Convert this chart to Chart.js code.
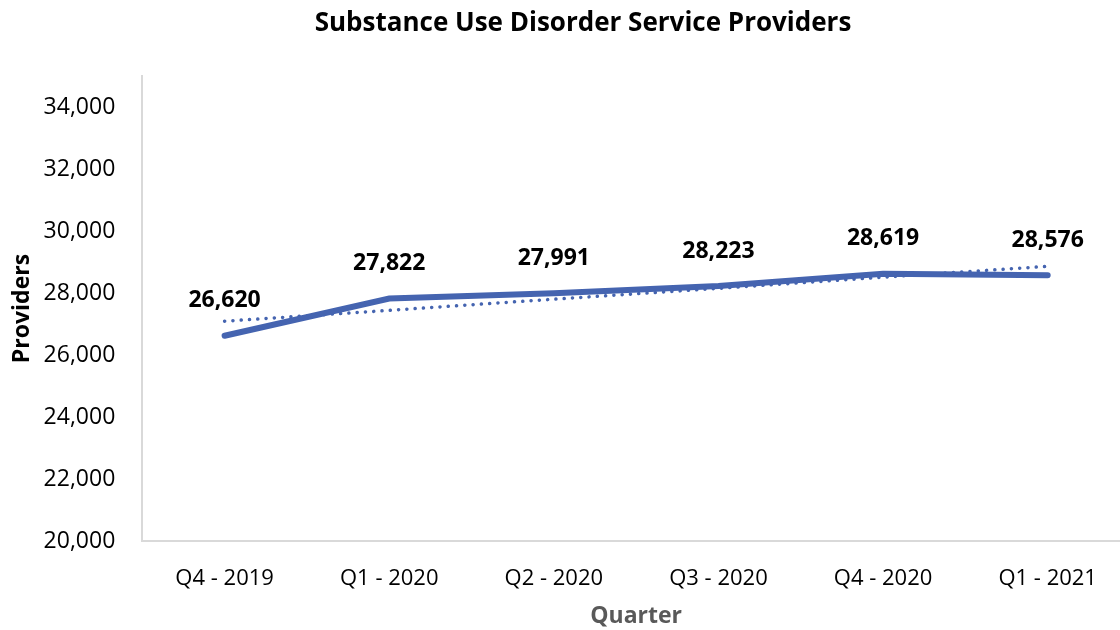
<!DOCTYPE html>
<html>
<head>
<meta charset="utf-8">
<script src="https://cdn.jsdelivr.net/npm/chart.js@4"></script>
<style>
  html, body { margin: 0; padding: 0; background: #fff; overflow: hidden; }
  #wrap { width: 1130px; height: 630px; }
</style>
</head>
<body>
<div id="wrap"><canvas id="chart"></canvas></div>
<script>
const quarters = ['Q4 - 2019', 'Q1 - 2020', 'Q2 - 2020', 'Q3 - 2020', 'Q4 - 2020', 'Q1 - 2021'];
const providers = [26620, 27822, 27991, 28223, 28619, 28576];
// linear trendline
const trend = [27090, 27440, 27800, 28150, 28510, 28860];
const yTicks = [20000, 22000, 24000, 26000, 28000, 30000, 32000, 34000];

const FONT = "'Open Sans', 'Noto Sans', sans-serif";
const BLUE = '#4564B0';

// chart title + value labels above the main line
const chartTexts = {
    id: 'chartTexts',
    afterDatasetsDraw(chart) {
        const ctx = chart.ctx;
        const meta = chart.getDatasetMeta(0);
        ctx.save();
        ctx.fillStyle = '#000';
        ctx.textAlign = 'center';
        ctx.textBaseline = 'middle';
        ctx.font = 'bold 26px ' + FONT;
        ctx.fillText('Substance Use Disorder Service Providers', 583, 24);
        ctx.font = 'bold 23px ' + FONT;
        meta.data.forEach((pt, i) => {
            ctx.fillText(providers[i].toLocaleString('en-US'), pt.x, pt.y - 35);
        });
        ctx.restore();
    }
};

new Chart(document.getElementById('chart'), {
    type: 'line',
    data: {
        labels: quarters,
        datasets: [{
            label: 'Providers',
            data: providers,
            borderColor: BLUE,
            borderWidth: 6,
            borderCapStyle: 'round',
            pointRadius: 0,
            tension: 0,
            order: 1
        }, {
            label: 'Linear (Providers)',
            data: trend,
            borderColor: BLUE,
            borderWidth: 3.5,
            borderDash: [0.1, 8.2],
            borderCapStyle: 'round',
            pointRadius: 0,
            tension: 0,
            order: 2
        }]
    },
    options: {
        responsive: true,
        maintainAspectRatio: false,
        animation: false,
        layout: { padding: { top: 76, left: 4, right: 0, bottom: 0 } },
        plugins: {
            legend: { display: false },
            tooltip: { enabled: false },
            title: { display: false }
        },
        scales: {
            x: {
                offset: true,
                grid: { display: false, drawTicks: false },
                border: { display: true, color: '#d9d9d9', width: 2 },
                ticks: { color: '#000', font: { family: FONT, size: 22 }, padding: 25 },
                title: {
                    display: true,
                    text: 'Quarter',
                    color: '#595959',
                    font: { family: FONT, size: 23, weight: 'bold' },
                    padding: { top: -15, bottom: 0 }
                }
            },
            y: {
                min: 20000,
                max: 35000,
                afterBuildTicks: axis => { axis.ticks = yTicks.map(v => ({ value: v })); },
                grid: { display: false, drawTicks: false },
                border: { display: true, color: '#d9d9d9', width: 2 },
                ticks: {
                    color: '#000',
                    font: { family: FONT, size: 23 },
                    padding: 27,
                    callback: v => v.toLocaleString('en-US')
                },
                title: {
                    display: true,
                    text: 'Providers',
                    color: '#000',
                    font: { family: FONT, size: 23, weight: 'bold' },
                    padding: { top: 5, bottom: -20 }
                }
            }
        }
    },
    plugins: [chartTexts]
});
</script>
</body>
</html>
